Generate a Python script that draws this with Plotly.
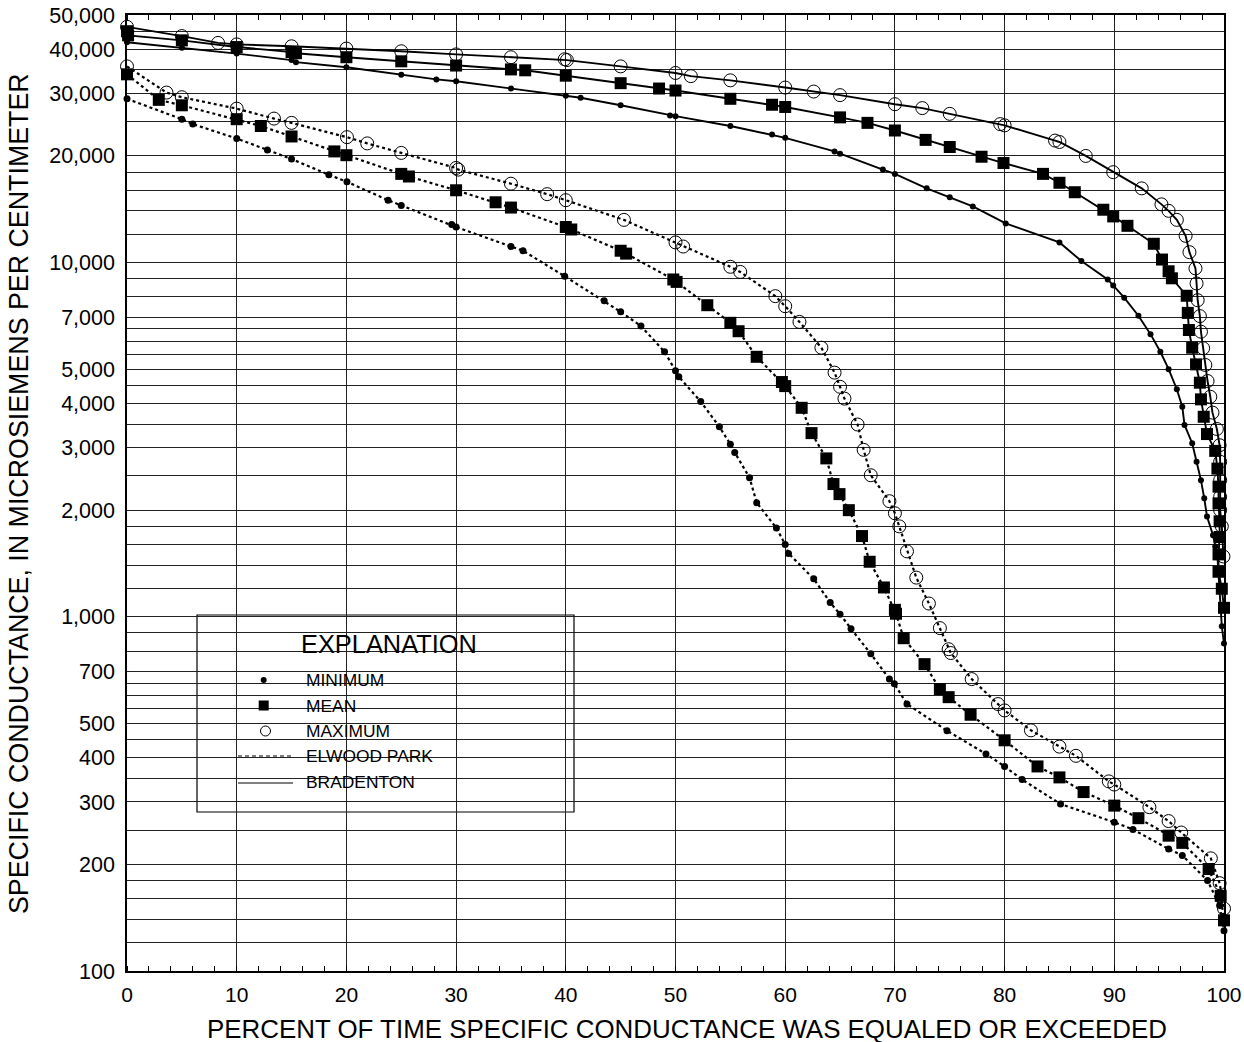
import math
import plotly.graph_objects as go

# ---------------- data ----------------
brad_max_x = [0, 5.0, 8.3, 10.0, 15.0, 20.0, 25.0, 30.0, 35.0, 39.9, 40.1, 45.0, 50.0, 51.4, 55.0, 60.0, 62.6,
              65.0, 70.0, 72.5, 75.0, 79.6, 80.0, 84.6, 85.0, 87.4, 89.9, 92.5, 94.3, 94.95, 95.7, 96.5, 96.85,
              97.4, 97.5, 97.6, 97.8, 97.9, 98.1, 98.3, 98.5, 98.75, 98.95, 99.35, 99.6, 99.65, 99.65, 99.65,
              99.65, 99.8, 99.95]
brad_max_y = [46300, 43600, 41700, 41300, 40800, 40200, 39500, 38700, 38000, 37500, 37300, 35800, 34300, 33600,
              32700, 31200, 30400, 29700, 28000, 27300, 26300, 24600, 24400, 22100, 21900, 20000, 18000, 16200,
              14600, 14000, 13200, 11900, 10700, 9630, 8730, 7830, 7060, 6380, 5730, 5140, 4630, 4180, 3770,
              3390, 3050, 2740, 2430, 2180, 2000, 1800, 1480]

brad_mean_x = [0, 0.1, 5.0, 10.0, 15.0, 15.4, 20.0, 25.0, 30.0, 35.0, 36.3, 40.0, 45.0, 48.5, 50.0, 55.0, 58.8,
               60.0, 65.0, 67.5, 70.0, 72.8, 75.0, 77.9, 79.9, 83.5, 85.0, 86.4, 89.0, 89.9, 91.2, 93.6, 94.35,
               94.95, 95.25, 96.6, 96.7, 96.8, 97.1, 97.45, 97.8, 97.9, 98.15, 98.45, 99.2, 99.4, 99.5, 99.5,
               99.6, 99.6, 99.5, 99.5, 99.8, 100]
brad_mean_y = [45000, 43800, 42400, 40600, 39300, 39000, 38000, 37000, 36000, 35100, 34900, 33700, 32100, 31000,
               30600, 29000, 27900, 27500, 25700, 24800, 23600, 22200, 21200, 19900, 19100, 17800, 16800, 15800,
               14100, 13500, 12700, 11300, 10200, 9450, 9030, 8060, 7210, 6450, 5750, 5160, 4580, 4110, 3670,
               3280, 2940, 2620, 2330, 2090, 1860, 1680, 1500, 1340, 1200, 1060]

brad_min_x = [0, 5.0, 10.0, 15.0, 15.4, 20.0, 25.0, 28.2, 30.0, 35.0, 40.0, 41.35, 45.0, 49.5, 50.0, 55.0, 58.8,
              60.0, 64.5, 65.0, 68.9, 70.0, 72.9, 75.0, 77.1, 80.1, 85.0, 87.0, 89.4, 89.9, 90.9, 92.2, 93.3,
              94.2, 94.95, 95.7, 96.2, 96.4, 97.1, 97.5, 97.9, 98.2, 98.45, 99.0, 99.2, 99.4, 99.8, 100]
brad_min_y = [41900, 40400, 38900, 37300, 36800, 35600, 33900, 32900, 32500, 31000, 29600, 29200, 27800, 26000,
              25900, 24300, 23000, 22500, 20600, 20300, 18300, 17800, 16200, 15300, 14400, 12900, 11400, 10100,
              8960, 8620, 7960, 7080, 6280, 5600, 5000, 4390, 3920, 3480, 3090, 2740, 2430, 2160, 1920, 1700,
              1580, 1480, 940, 840]

elw_max_x = [0, 3.6, 5.0, 10.0, 13.4, 15.0, 20.05, 21.9, 25.0, 30.0, 30.2, 35.0, 38.3, 40.0, 45.3, 50.0, 50.7,
             55.0, 55.9, 59.1, 60.0, 61.3, 63.3, 64.5, 65.0, 65.4, 66.6, 67.15, 67.8, 69.5, 70.0, 70.4, 71.1,
             71.95, 73.1, 74.1, 74.9, 75.1, 77.0, 79.4, 80.0, 82.4, 85.0, 86.5, 89.5, 90.0, 93.2, 94.95, 96.1,
             98.8, 99.6, 100]
elw_max_y = [35800, 30200, 29300, 27200, 25500, 24800, 22600, 21700, 20400, 18500, 18300, 16700, 15600, 15000,
             13200, 11400, 11100, 9730, 9410, 8040, 7530, 6800, 5750, 4890, 4460, 4130, 3490, 2960, 2510, 2120,
             1960, 1800, 1530, 1290, 1090, 929, 810, 790, 667, 567, 544, 478, 430, 405, 343, 336, 290, 265, 246,
             208, 177, 150]

elw_mean_x = [0, 2.9, 5.0, 10.0, 12.2, 15.0, 18.9, 20.0, 25.0, 25.7, 30.0, 33.6, 35.0, 40.0, 40.5, 45.0, 45.5,
              49.8, 50.1, 52.9, 55.0, 55.75, 57.4, 59.7, 60.0, 61.5, 62.4, 63.75, 64.4, 64.95, 65.8, 67.0, 67.7,
              69.0, 70.0, 70.1, 70.8, 72.7, 74.1, 74.9, 76.9, 80.0, 83.0, 85.0, 87.2, 90.0, 92.2, 94.95, 96.2,
              98.6, 99.7, 100]
elw_mean_y = [34000, 28800, 27800, 25400, 24300, 22700, 20600, 20100, 17800, 17500, 16000, 14800, 14300, 12600,
              12400, 10800, 10600, 8960, 8820, 7580, 6760, 6400, 5420, 4600, 4480, 3890, 3300, 2800, 2370, 2220,
              2000, 1690, 1430, 1210, 1046, 1020, 870, 735, 625, 593, 529, 448, 378, 352, 320, 293, 270, 241, 230,
              194, 163, 139]

elw_min_x = [0, 5.0, 6.0, 10.0, 12.8, 15.0, 18.4, 20.05, 23.8, 25.0, 29.6, 30.0, 35.0, 36.1, 39.9, 43.5, 45.0,
             46.85, 49.0, 50.0, 50.3, 52.3, 54.0, 55.0, 55.4, 56.75, 57.4, 59.2, 60.0, 60.3, 62.6, 64.1, 65.0,
             66.0, 67.8, 69.5, 69.95, 71.1, 74.75, 78.3, 80.0, 81.6, 85.1, 90.0, 91.7, 94.95, 96.2, 98.5, 99.6, 100]
elw_min_y = [29000, 25400, 24600, 22400, 20800, 19600, 17700, 16900, 15000, 14500, 12800, 12600, 11100, 10800,
             9150, 7800, 7260, 6620, 5600, 4950, 4760, 4050, 3440, 3070, 2910, 2470, 2100, 1780, 1600, 1510, 1280,
             1097, 1017, 925, 786, 667, 647, 567, 477, 410, 378, 347, 296, 263, 251, 221, 212, 180, 153, 130]

x_tick_vals = [0, 10, 20, 30, 40, 50, 60, 70, 80, 90, 100]
y_grid_mults = [1, 1.2, 1.4, 1.6, 1.8, 2, 2.5, 3, 3.5, 4, 4.5, 5, 5.5, 6, 6.5, 7, 8, 9]
y_labelled = {100: "100", 200: "200", 300: "300", 400: "400", 500: "500", 700: "700",
              1000: "1,000", 2000: "2,000", 3000: "3,000", 4000: "4,000", 5000: "5,000", 7000: "7,000",
              10000: "10,000", 20000: "20,000", 30000: "30,000", 40000: "40,000", 50000: "50,000"}

legend_labels = ["MINIMUM", "MEAN", "MAXIMUM", "ELWOOD PARK", "BRADENTON"]

# ---------------- figure ----------------
W, H = 1244, 1042
L, R, T, B = 127, 20, 15, 71
PW, PH = W - L - R, H - T - B
FONT = "Liberation Sans, Arial, Helvetica, sans-serif"


def fx(px):
    return (px - L) / PW


def fy(py):
    return (H - B - py) / PH


yvals = []
for dec in [100, 1000, 10000]:
    for m in y_grid_mults:
        v = round(dec * m)
        if v <= 50000:
            yvals.append(v)
yvals += [45000, 50000]
yvals = sorted(set(yvals))
ytext = [y_labelled.get(v, "") for v in yvals]

fig = go.Figure()


def add_series(xs, ys, dash, symbol, size, lw=1.6, mline=0):
    fig.add_trace(go.Scatter(
        x=xs, y=ys, mode="lines+markers",
        line=dict(color="black", width=lw, dash=dash),
        marker=dict(symbol=symbol, size=size, color="black",
                    line=dict(color="black", width=mline)),
        showlegend=False, cliponaxis=False))


add_series(elw_min_x, elw_min_y, "dot", "circle", 7, lw=2.2)
add_series(elw_mean_x, elw_mean_y, "dot", "square", 12, lw=2.2)
add_series(elw_max_x, elw_max_y, "dot", "circle-open", 13, lw=2.2, mline=1)
add_series(brad_min_x, brad_min_y, "solid", "circle", 6, lw=1.9)
add_series(brad_mean_x, brad_mean_y, "solid", "square", 12, lw=1.9)
add_series(brad_max_x, brad_max_y, "solid", "circle-open", 13, lw=1.9, mline=1)

# legend symbols (on an overlay 0..1 axis matching the plot area)
leg_rows = [680, 705.5, 731, 756, 781.5]
fig.add_trace(go.Scatter(x=[fx(263.7)], y=[fy(leg_rows[0])], mode="markers", xaxis="x2", yaxis="y2",
                         marker=dict(symbol="circle", size=6, color="black"), showlegend=False))
fig.add_trace(go.Scatter(x=[fx(263.7)], y=[fy(leg_rows[1])], mode="markers", xaxis="x2", yaxis="y2",
                         marker=dict(symbol="square", size=10, color="black"), showlegend=False))
fig.add_trace(go.Scatter(x=[fx(265.5)], y=[fy(leg_rows[2])], mode="markers", xaxis="x2", yaxis="y2",
                         marker=dict(symbol="circle-open", size=10, color="black", line=dict(width=1)),
                         showlegend=False))

shapes = [
    dict(type="rect", xref="paper", yref="paper", x0=fx(197), x1=fx(574), y0=fy(615), y1=fy(812),
         fillcolor="white", line=dict(color="black", width=1.2), layer="between"),
    dict(type="line", xref="paper", yref="paper", x0=fx(238), x1=fx(291), y0=fy(756), y1=fy(756),
         line=dict(color="black", width=1, dash="4px,3px")),
    dict(type="line", xref="paper", yref="paper", x0=fx(238), x1=fx(293), y0=fy(783), y1=fy(783),
         line=dict(color="black", width=1)),
]

annotations = [
    dict(text="EXPLANATION", xref="paper", yref="paper", x=fx(388.5), y=fy(643.5), xanchor="center",
         yanchor="middle", showarrow=False, font=dict(size=25.4, color="black", family=FONT)),
    dict(text="SPECIFIC CONDUCTANCE, IN MICROSIEMENS PER CENTIMETER", xref="paper", yref="paper",
         x=fx(19), y=fy(494), xanchor="center", yanchor="middle", textangle=-90, showarrow=False,
         font=dict(size=26.8, color="black", family=FONT)),
    dict(text="PERCENT OF TIME SPECIFIC CONDUCTANCE WAS EQUALED OR EXCEEDED", xref="paper", yref="paper",
         x=fx(687), y=fy(1028.5), xanchor="center", yanchor="middle", showarrow=False,
         font=dict(size=25.9, color="black", family=FONT)),
]
for lab, ry in zip(legend_labels, leg_rows):
    annotations.append(dict(text=lab, xref="paper", yref="paper", x=fx(304), y=fy(ry), xanchor="left",
                            yanchor="middle", showarrow=False,
                            font=dict(size=17.4, color="black", family=FONT)))

fig.update_layout(
    width=W, height=H,
    margin=dict(l=L, r=R, t=T, b=B, pad=0, autoexpand=False),
    paper_bgcolor="white", plot_bgcolor="white",
    font=dict(family=FONT, color="black"),
    shapes=shapes, annotations=annotations,
    xaxis=dict(range=[0, 100], tickvals=x_tick_vals, ticks="", showgrid=True, gridcolor="#222",
               gridwidth=1, showline=True, linecolor="black", linewidth=1.5, mirror="allticks",
               zeroline=False, tickfont=dict(size=21), ticklabelstandoff=4, automargin=False,
               minor=dict(dtick=2, ticks="inside", ticklen=5, tickcolor="black", tickwidth=1,
                          showgrid=False)),
    yaxis=dict(type="log", range=[math.log10(99.99), math.log10(50001)], tickvals=yvals, ticktext=ytext,
               ticks="", showgrid=True, gridcolor="#222", gridwidth=1, showline=True,
               linecolor="black", linewidth=1.5, mirror=True, zeroline=False, tickfont=dict(size=21.5),
               ticklabelstandoff=6, automargin=False),
    xaxis2=dict(overlaying="x", range=[0, 1], visible=False, automargin=False),
    yaxis2=dict(overlaying="y", range=[0, 1], visible=False, automargin=False),
)

page_fix = ("document.documentElement.style.margin='0';document.documentElement.style.padding='0';"
            "document.documentElement.style.overflow='hidden';document.body.style.margin='0';"
            "document.body.style.padding='0';document.body.style.overflow='hidden';")

fig.write_html("out.html", post_script=page_fix, config={"displayModeBar": False})
